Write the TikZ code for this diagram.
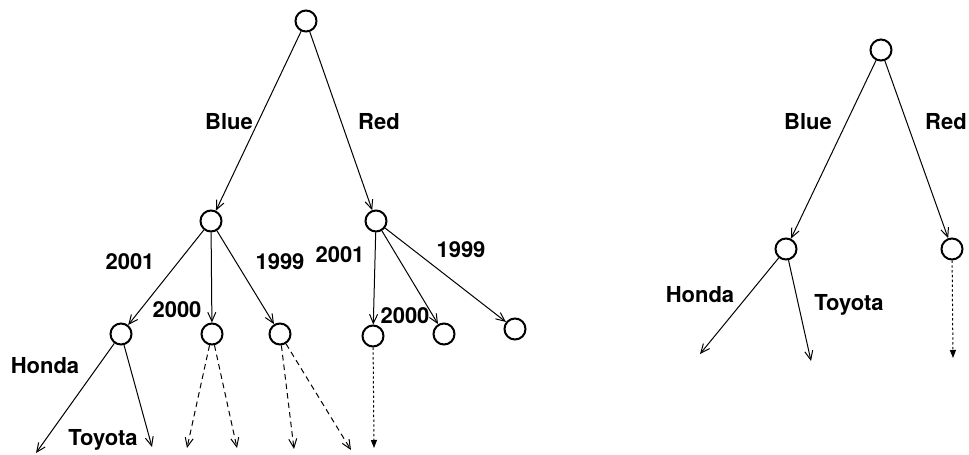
\documentclass[tikz,border=0pt]{standalone}
\usepackage{fontspec}
\setmainfont{TeX Gyre Heros}
\usetikzlibrary{arrows.meta}
\begin{document}
\begin{tikzpicture}[x=0.5pt,y=-0.5pt,
  st/.style={circle,draw,line width=1pt,minimum size=10.5pt,inner sep=0pt},
  lab/.style={font=\fontsize{11}{13}\selectfont\bfseries,inner sep=0pt},
  edge/.style={line width=0.5pt,-{Straight Barb[length=4.5pt,width=4pt]}},
  dedge/.style={edge,dash pattern=on 2.8pt off 2pt},
  dotedge/.style={line width=0.5pt,dash pattern=on 1.2pt off 1.2pt,-{Triangle[length=4pt,width=3pt]}}]
\useasboundingbox (0,0) rectangle (969,455);
% left tree
\node[st] (r) at (306,21) {};
\node[st] (b) at (211,221) {};
\node[st] (rd) at (376,221) {};
\node[st] (b1) at (121,334) {};
\node[st] (b2) at (212,334) {};
\node[st] (b3) at (280,334) {};
\node[st] (d1) at (373,336) {};
\node[st] (d2) at (444,334) {};
\node[st] (d3) at (515,329) {};
\coordinate (l1) at (36,453);
\coordinate (l2) at (152,447);
\coordinate (l3) at (187,448);
\coordinate (l4) at (237,448);
\coordinate (l5) at (294,449);
\coordinate (l6) at (351,450);
\coordinate (l7) at (374,448);
\draw[edge] (r) -- (b);
\draw[edge] (r) -- (rd);
\draw[edge] (b) -- (b1);
\draw[edge] (b) -- (b2);
\draw[edge] (b) -- (b3);
\draw[edge] (rd) -- (d1);
\draw[edge] (rd) -- (d2);
\draw[edge] (rd) -- (d3);
\draw[edge] (b1) -- (l1);
\draw[edge] (b1) -- (l2);
\draw[dedge] (b2) -- (l3);
\draw[dedge] (b2) -- (l4);
\draw[dedge] (b3) -- (l5);
\draw[dedge] (b3) -- (l6);
\draw[dotedge] (d1) -- (l7);
\node[lab] (tb) at (229,122) {Blue};
\node[lab] (tr) at (379,122) {Red};
\node[lab] (t1) at (130,262) {2001};
\node[lab] (t2) at (177,310) {2000};
\node[lab] (t3) at (280,262) {1999};
\node[lab] (t4) at (340,255) {2001};
\node[lab] (t5) at (405,316) {2000};
\node[lab] (t6) at (461,250) {1999};
\node[lab] (th) at (45,366) {Honda};
\node[lab] (tt) at (103,440) {Toyota};
% right tree
\node[st] (R) at (881,50) {};
\node[st] (B) at (786,249) {};
\node[st] (RD) at (952,249) {};
\coordinate (L1) at (700,354);
\coordinate (L2) at (811,361);
\coordinate (L3) at (953,358);
\draw[edge] (R) -- (B);
\draw[edge] (R) -- (RD);
\draw[edge] (B) -- (L1);
\draw[edge] (B) -- (L2);
\draw[dotedge] (RD) -- (L3);
\node[lab] (TB) at (808,122) {Blue};
\node[lab] (TR) at (946,122) {Red};
\node[lab] (TH) at (700,295) {Honda};
\node[lab] (TT) at (849,305) {Toyota};
\end{tikzpicture}
\end{document}
